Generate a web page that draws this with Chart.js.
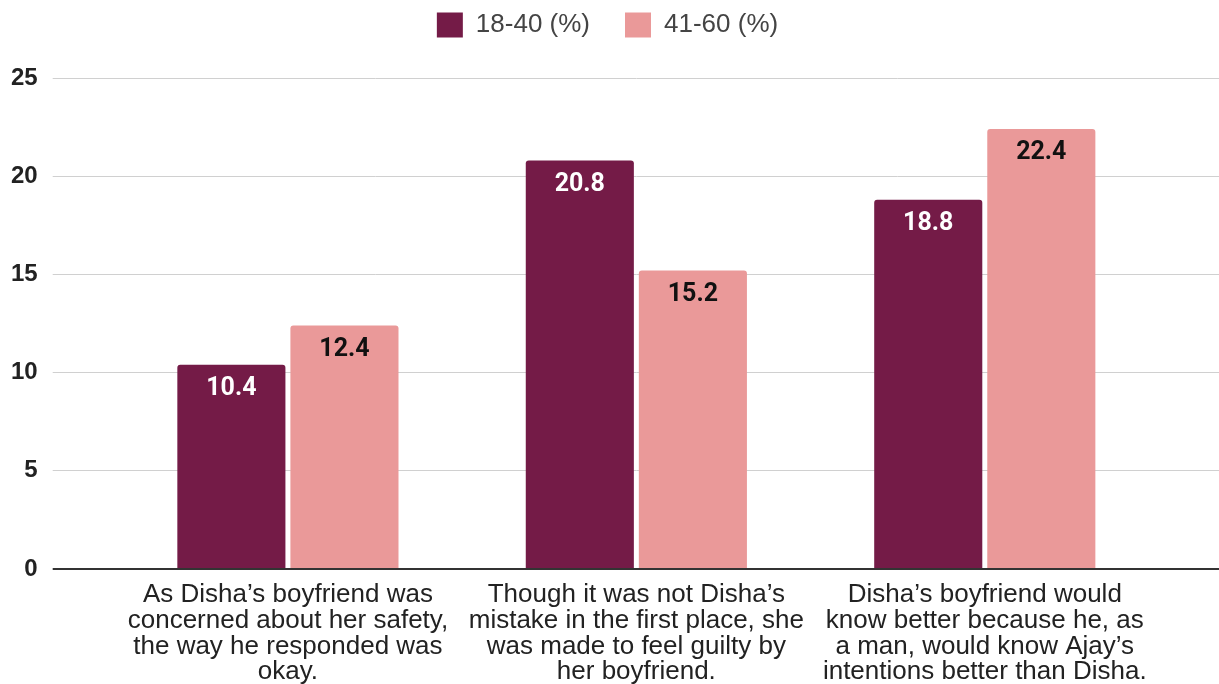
<!DOCTYPE html>
<html lang="en">
<head>
    <meta charset="UTF-8">
    <title>Responses by Age Group</title>
    <script src="https://cdn.jsdelivr.net/npm/chart.js"></script>
    <style>
        body { margin: 0; background: #fff; }
        #wrap { width: 1219px; height: 684px; }
    </style>
</head>
<body>
    <div id="wrap">
        <canvas id="ageChart" width="1219" height="684"></canvas>
    </div>

    <script>
        // statements shown under each pair of bars
        const statements = [
            ["As Disha’s boyfriend was", "concerned about her safety,", "the way he responded was", "okay."],
            ["Though it was not Disha’s", "mistake in the first place, she", "was made to feel guilty by", "her boyfriend."],
            ["Disha’s boyfriend would", "know better because he, as", "a man, would know Ajay’s", "intentions better than Disha."]
        ];
        const youngLabel = "18-40 (%)";
        const olderLabel = "41-60 (%)";
        const youngValues = [10.4, 20.8, 18.8];
        const olderValues = [12.4, 15.2, 22.4];
        const yTicks = [0, 5, 10, 15, 20, 25];

        const FONT = "'Liberation Sans', Arial, sans-serif";
        Chart.defaults.font.family = FONT;

        // value printed just inside the top of each bar
        const barValues = {
            id: "barValues",
            afterDatasetsDraw(chart) {
                const ctx = chart.ctx;
                ctx.save();
                ctx.font = "bold 25px Roboto, sans-serif";
                ctx.textAlign = "center";
                ctx.textBaseline = "middle";
                chart.data.datasets.forEach((ds, i) => {
                    ctx.fillStyle = ds.valueColor;
                    chart.getDatasetMeta(i).data.forEach((bar, j) => {
                        ctx.fillText(ds.data[j].toFixed(1), bar.x, bar.y + 24);
                    });
                });
                ctx.restore();
            }
        };

        // extra room between the legend and the plot
        const legendGap = {
            id: "legendGap",
            beforeInit(chart) {
                const fit = chart.legend.fit;
                chart.legend.fit = function () {
                    fit.call(this);
                    this.height += 30;
                };
            }
        };

        const gridColor = c => c.tick && c.tick.value === 0 ? "#333333" : "#d0d0d0";
        const gridWidth = c => c.tick && c.tick.value === 0 ? 2 : 1;

        new Chart(document.getElementById("ageChart"), {
            type: "bar",
            data: {
                labels: statements,
                datasets: [
                    {
                        label: youngLabel,
                        data: youngValues,
                        backgroundColor: "#741b47",
                        valueColor: "#ffffff"
                    },
                    {
                        label: olderLabel,
                        data: olderValues,
                        backgroundColor: "#ea9999",
                        valueColor: "#111111"
                    }
                ]
            },
            options: {
                responsive: false,
                animation: false,
                layout: { padding: { left: -4, top: -23, bottom: -14 } },
                datasets: {
                    bar: {
                        categoryPercentage: 0.649,
                        barPercentage: 0.956,
                        borderRadius: { topLeft: 3, topRight: 3 },
                        borderSkipped: "start"
                    }
                },
                plugins: {
                    tooltip: { enabled: false },
                    legend: {
                        position: "top",
                        labels: {
                            boxWidth: 26,
                            boxHeight: 25,
                            padding: 35,
                            color: "#444444",
                            font: { size: 26 }
                        }
                    }
                },
                scales: {
                    x: {
                        grid: { display: false, drawTicks: false },
                        border: { display: false },
                        ticks: {
                            color: "#222222",
                            font: { size: 26, lineHeight: 0.99 },
                            padding: 13,
                            maxRotation: 0,
                            autoSkip: false
                        }
                    },
                    y: {
                        min: 0,
                        max: 25,
                        border: { display: false },
                        afterBuildTicks: s => { s.ticks = yTicks.map(v => ({ value: v })); },
                        grid: { color: gridColor, lineWidth: gridWidth, tickLength: 61 },
                        ticks: {
                            color: "#222222",
                            font: { size: 24, weight: "bold" },
                            padding: 15
                        }
                    },
                    // mirror axis so the grid runs on to the right edge
                    yRight: {
                        position: "right",
                        min: 0,
                        max: 25,
                        border: { display: false },
                        afterBuildTicks: s => { s.ticks = yTicks.map(v => ({ value: v })); },
                        grid: { color: gridColor, lineWidth: gridWidth, tickLength: 60, drawOnChartArea: false },
                        ticks: { display: false }
                    }
                }
            },
            plugins: [barValues, legendGap]
        });
    </script>
</body>
</html>
